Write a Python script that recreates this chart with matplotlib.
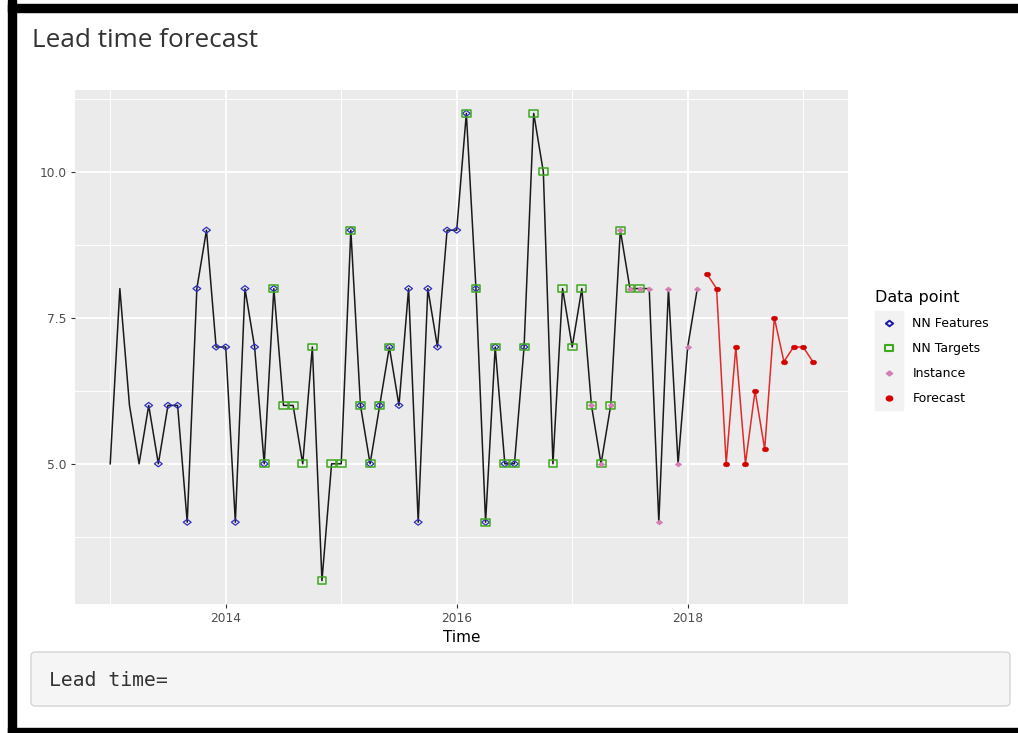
import numpy as np
import matplotlib
matplotlib.use("Agg")
import matplotlib.pyplot as plt
from matplotlib.path import Path
from matplotlib.markers import MarkerStyle
from matplotlib.lines import Line2D
from matplotlib.patches import Rectangle, FancyBboxPatch

# ---- data -------------------------------------------------------------
start_year = 2013
observed = [5, 8, 6, 5, 6, 5, 6, 6, 4, 8, 9, 7, 7, 4, 8, 7, 5, 8, 6, 6,
            5, 7, 3, 5, 5, 9, 6, 5, 6, 7, 6, 8, 4, 8, 7, 9, 9, 11, 8, 4,
            7, 5, 5, 7, 11, 10, 5, 8, 7, 8, 6, 5, 6, 9, 8, 8, 8, 4, 8, 5,
            7, 8]
forecast = [8.25, 8, 5, 7, 5, 6.25, 5.25, 7.5, 6.75, 7, 7, 6.75]

# positions (month index) of the nearest-neighbour windows and the instance
nn_feature_idx = list(range(4, 18)) + list(range(25, 44))
nn_target_idx = list(range(16, 30)) + list(range(37, 56))
instance_idx = list(range(50, 62))

legend_labels = ["NN Features", "NN Targets", "Instance", "Forecast"]
x_ticks = [2014, 2016, 2018]
y_ticks = [5.0, 7.5, 10.0]

# ---- derived series ---------------------------------------------------
obs = np.array(observed, dtype=float)
fc = np.array(forecast, dtype=float)
t_obs = start_year + np.arange(len(obs)) / 12.0
t_fc = start_year + (len(obs) + np.arange(len(fc))) / 12.0

# ---- marker shapes (slightly wide, as rendered in the app) ------------
ASPECT = 1.3
def wide(path):
    v = path.vertices.copy()
    v[:, 0] *= ASPECT
    return MarkerStyle(Path(v, path.codes))

sq = wide(Path([(-1, -1), (1, -1), (1, 1), (-1, 1), (-1, -1)],
               [Path.MOVETO, Path.LINETO, Path.LINETO, Path.LINETO, Path.CLOSEPOLY]))
dia = wide(Path([(0, -1), (1, 0), (0, 1), (-1, 0), (0, -1)],
                [Path.MOVETO, Path.LINETO, Path.LINETO, Path.LINETO, Path.CLOSEPOLY]))
circ = wide(Path.unit_circle())

BLUE = "#2f2fc0"
GREEN = "#3ea81e"
PINK = "#d27fb4"
RED = "#d40000"

W, H = 1018, 733
fig = plt.figure(figsize=(W / 100, H / 100), dpi=100)
fig.patch.set_facecolor("white")

def fx(px):
    return px / W
def fy(py):
    return 1 - py / H

# page frame
fig.patches.append(Rectangle((fx(8), fy(733)), fx(8), 1, transform=fig.transFigure,
                             color="black", zorder=0))
fig.patches.append(Rectangle((fx(8), fy(12)), 1, fy(4) - fy(12), transform=fig.transFigure,
                             color="black", zorder=0))
fig.patches.append(Rectangle((fx(8), fy(733)), 1, fy(728) - fy(733), transform=fig.transFigure,
                             color="black", zorder=0))

fig.text(fx(32), fy(47), "Lead time forecast", fontsize=18.8, color="#333333",
         family=["Open Sans", "DejaVu Sans"], ha="left", va="baseline")

# ---- plot panel -------------------------------------------------------
ax = fig.add_axes([fx(75), fy(604), fx(848) - fx(75), fy(90) - fy(604)])
ax.set_facecolor("#ebebeb")
for s in ax.spines.values():
    s.set_visible(False)

ax.set_xlim(2012.695, 2019.388)
ax.set_ylim(2.6, 11.4)
ax.set_xticks(x_ticks)
ax.set_xticklabels([str(v) for v in x_ticks])
ax.set_xticks([2013, 2015, 2017, 2019], minor=True)
ax.set_yticks(y_ticks)
ax.set_yticklabels([f"{v:.1f}" for v in y_ticks])
ax.set_yticks([3.75, 6.25, 8.75, 11.25], minor=True)
ax.grid(which="major", color="white", linewidth=1.3)
ax.grid(which="minor", color="white", linewidth=0.7)
ax.set_axisbelow(True)
ax.tick_params(which="major", length=3, width=0.8, color="#333333",
               labelsize=8.8, labelcolor="#4d4d4d", pad=3)
ax.tick_params(which="minor", length=0)
ax.set_xlabel("Time", fontsize=11, color="black", labelpad=3)

ax.plot(t_obs, obs, color="#1a1a1a", linewidth=1.1, zorder=2)
ax.plot(t_fc, fc, color="#e02a2a", linewidth=1.1, zorder=2)

ax.scatter(t_obs[nn_feature_idx], obs[nn_feature_idx], marker=dia, s=5.6 ** 2,
           facecolors="none", edgecolors=BLUE, linewidths=0.9, zorder=3)
ax.scatter(t_obs[nn_target_idx], obs[nn_target_idx], marker=sq, s=6.4 ** 2,
           facecolors="none", edgecolors=GREEN, linewidths=1.1, zorder=4)
ax.scatter(t_obs[instance_idx], obs[instance_idx], marker=dia, s=4.9 ** 2,
           facecolors=PINK, edgecolors=PINK, linewidths=0.3, zorder=5)
ax.scatter(t_fc, fc, marker=circ, s=4.5 ** 2, facecolors=RED, edgecolors=RED,
           linewidths=0.3, zorder=5)

# ---- legend -----------------------------------------------------------
handles = [
    Line2D([], [], linestyle="none", marker=dia, markersize=5.3, markerfacecolor="none",
           markeredgecolor="#1a1aa8", markeredgewidth=1.4),
    Line2D([], [], linestyle="none", marker=sq, markersize=6.2, markerfacecolor="none",
           markeredgecolor=GREEN, markeredgewidth=1.5),
    Line2D([], [], linestyle="none", marker=dia, markersize=4.6, markerfacecolor=PINK,
           markeredgecolor=PINK),
    Line2D([], [], linestyle="none", marker=circ, markersize=4.6, markerfacecolor=RED,
           markeredgecolor=RED),
]
fig.patches.append(Rectangle((fx(875), fy(410)), fx(28), fy(311) - fy(410),
                             transform=fig.transFigure, color="#f2f2f2", zorder=0))
leg = fig.legend(handles, legend_labels, title="Data point", loc="upper left",
                 bbox_to_anchor=(fx(875), fy(290)), frameon=False, fontsize=9,
                 title_fontsize=11.5, handlelength=2.2, handletextpad=0.8,
                 labelspacing=0.96, borderpad=0.0, borderaxespad=0.0,
                 alignment="left")

# ---- lead time box ----------------------------------------------------
fig.patches.append(FancyBboxPatch((fx(31), fy(706)), fx(1010) - fx(31), fy(652) - fy(706),
                                  boxstyle="round,pad=0,rounding_size=0.005",
                                  transform=fig.transFigure, facecolor="#f5f5f5",
                                  edgecolor="#d4d4d4", linewidth=1.0, zorder=0))
fig.text(fx(49), fy(680), "Lead time=", fontsize=14.2, family="DejaVu Sans Mono",
         color="#333333", ha="left", va="center")

fig.savefig("out.png", dpi=100)
